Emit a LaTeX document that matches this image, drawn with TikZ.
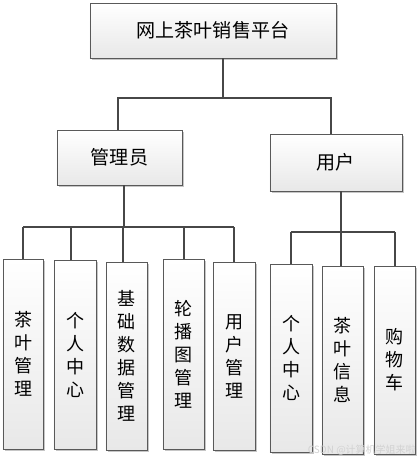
\documentclass[tikz,border=0pt]{standalone}
\usepackage{fontspec}
\newfontfamily\cjk{Noto Sans CJK SC}
\usetikzlibrary{shadows}
\begin{document}
\begin{tikzpicture}[x=0.75pt,y=-0.75pt,
  box/.style={draw=gray!70!black, line width=0.6pt, top color=white, bottom color=gray!18,
    drop shadow={shadow xshift=1.3pt, shadow yshift=-1.3pt, fill=gray!45, opacity=1},
    inner sep=0pt, font=\cjk\fontsize{14.3pt}{17pt}\selectfont},
  leaf/.style={box, align=center, font=\cjk\fontsize{13.5pt}{17.25pt}\selectfont},
  link/.style={draw=black!72, line width=0.8pt},
  wm/.style={text=gray!35, font=\cjk\fontsize{7.5pt}{9pt}\selectfont, inner sep=0pt}]
\useasboundingbox (0,0) rectangle (420,462);
\fill[white] (0,0) rectangle (420,462);
% main boxes
\node[box, minimum width=184.5pt, minimum height=41.25pt] (top) at (213,30.5) {网上茶叶销售平台};
\node[box, minimum width=93.75pt, minimum height=41.25pt] (admin) at (119.5,157.5) {管理员};
\node[box, minimum width=99pt, minimum height=42.75pt] (user) at (336,162.5) {用户};
% leaves
\node[leaf, minimum width=30pt, minimum height=142.5pt] (l1) at (23,354) {茶\\叶\\管\\理};
\node[leaf, minimum width=31.5pt, minimum height=141.75pt] (l2) at (75,354.5) {个\\人\\中\\心};
\node[leaf, minimum width=30.75pt, minimum height=141pt] (l3) at (126.5,356) {基\\础\\数\\据\\管\\理};
\node[leaf, minimum width=30.75pt, minimum height=142.5pt] (l4) at (183.5,354) {轮\\播\\图\\管\\理};
\node[leaf, minimum width=31.5pt, minimum height=141pt] (l5) at (234,356) {用\\户\\管\\理};
\node[leaf, minimum width=31.5pt, minimum height=141pt] (u1) at (291,358) {个\\人\\中\\心};
\node[leaf, minimum width=30.75pt, minimum height=141pt] (u2) at (342.5,360) {茶\\叶\\信\\息};
\node[leaf, minimum width=30.75pt, minimum height=141pt] (u3) at (394.5,360) {购\\物\\车};
% junctions
\coordinate (j0) at (223,98);
\coordinate (jl) at (118,98);
\coordinate (jr) at (331,98);
\coordinate (ab) at (124,227);
\coordinate (c1) at (23,227);
\coordinate (c2) at (71,227);
\coordinate (c3) at (123,227);
\coordinate (c4) at (184,227);
\coordinate (c5) at (234,227);
\coordinate (ub) at (341,232);
\coordinate (d1) at (291,232);
\coordinate (d2) at (341,232);
\coordinate (d3) at (395,232);
% connectors
\draw[link] (top.south -| j0) -- (j0);
\draw[link] (admin.north -| jl) -- (jl) -- (jr) -- (user.north -| jr);
\draw[link] (admin.south -| ab) -- (ab);
\draw[link] (c1) -- (c5);
\draw[link] (c1) -- (l1.north -| c1);
\draw[link] (c2) -- (l2.north -| c2);
\draw[link] (c3) -- (l3.north -| c3);
\draw[link] (c4) -- (l4.north -| c4);
\draw[link] (c5) -- (l5.north -| c5);
\draw[link] (user.south -| ub) -- (ub);
\draw[link] (d1) -- (d3);
\draw[link] (d1) -- (u1.north -| d1);
\draw[link] (d2) -- (u2.north -| d2);
\draw[link] (d3) -- (u3.north -| d3);
% watermark
\node[wm, anchor=east] (wmk) at (416,450) {CSDN @计算机学姐来啦};
\end{tikzpicture}
\end{document}
